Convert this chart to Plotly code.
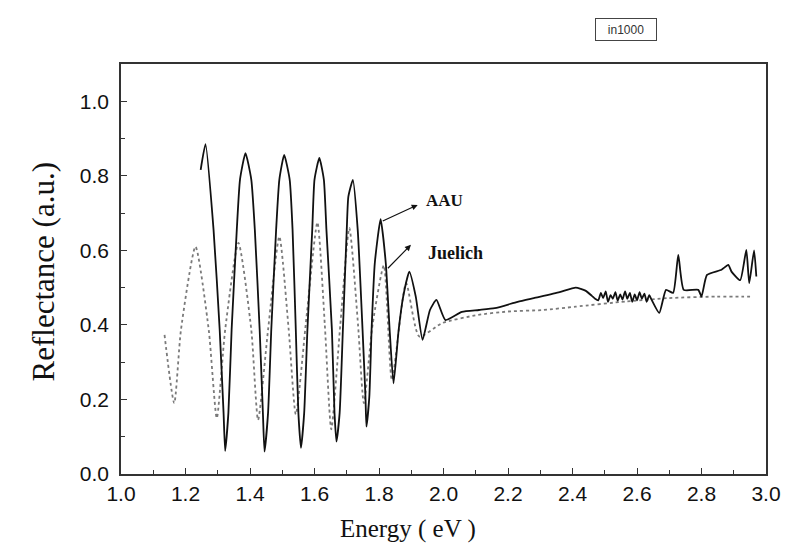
import plotly.graph_objects as go

# AAU measurement (solid)
aau_energy = [1.247, 1.262, 1.287, 1.306, 1.318, 1.323, 1.333, 1.343, 1.359, 1.369, 1.386,
              1.404, 1.415, 1.430, 1.440, 1.445, 1.456, 1.466, 1.481, 1.491, 1.506,
              1.523, 1.532, 1.542, 1.550, 1.558, 1.568, 1.578, 1.593, 1.600, 1.615,
              1.629, 1.637, 1.654, 1.662, 1.668, 1.678, 1.688, 1.700, 1.705, 1.719,
              1.734, 1.749, 1.758, 1.761, 1.770, 1.777, 1.787, 1.805,
              1.821, 1.833, 1.845, 1.861, 1.875, 1.894, 1.914, 1.935, 1.958, 1.978, 2.006,
              2.057, 2.110, 2.159, 2.230, 2.280, 2.360, 2.410, 2.440, 2.460, 2.470, 2.480,
              2.488, 2.495, 2.503, 2.510, 2.518, 2.525, 2.533, 2.540, 2.548, 2.555, 2.563,
              2.570, 2.578, 2.585, 2.593, 2.600, 2.608, 2.615, 2.623, 2.630, 2.638, 2.645,
              2.669, 2.690, 2.712, 2.728, 2.745, 2.790, 2.800, 2.817, 2.862, 2.883, 2.893,
              2.920, 2.939, 2.948, 2.963, 2.970]
aau_refl = [0.816, 0.885, 0.655, 0.387, 0.164, 0.062, 0.164, 0.387, 0.655, 0.790, 0.861,
            0.790, 0.655, 0.387, 0.164, 0.060, 0.164, 0.387, 0.655, 0.790, 0.856,
            0.790, 0.655, 0.387, 0.164, 0.070, 0.164, 0.387, 0.655, 0.790, 0.848,
            0.790, 0.655, 0.387, 0.164, 0.087, 0.164, 0.387, 0.655, 0.744, 0.789,
            0.655, 0.387, 0.208, 0.127, 0.208, 0.387, 0.566, 0.684,
            0.566, 0.387, 0.243, 0.387, 0.476, 0.543, 0.476, 0.360, 0.440, 0.467, 0.413,
            0.435, 0.440, 0.445, 0.462, 0.472, 0.488, 0.500, 0.492, 0.478, 0.470, 0.466,
            0.486, 0.472, 0.490, 0.462, 0.480, 0.470, 0.488, 0.465, 0.482, 0.468, 0.490,
            0.470, 0.486, 0.462, 0.482, 0.466, 0.488, 0.470, 0.484, 0.462, 0.480, 0.468,
            0.432, 0.494, 0.486, 0.588, 0.494, 0.494, 0.476, 0.534, 0.548, 0.561, 0.543,
            0.520, 0.601, 0.512, 0.600, 0.530]

# Juelich measurement (dotted)
jue_energy = [1.135, 1.165, 1.186, 1.231, 1.272, 1.297, 1.323, 1.364, 1.404, 1.425, 1.456,
              1.491, 1.520, 1.542, 1.575, 1.609, 1.632, 1.652, 1.680, 1.708, 1.735, 1.753,
              1.780, 1.815, 1.840, 1.884, 1.925, 1.996, 2.108, 2.200, 2.310, 2.410, 2.566,
              2.699, 2.847, 2.924, 2.960]
jue_refl = [0.373, 0.190, 0.387, 0.610, 0.387, 0.150, 0.387, 0.620, 0.387, 0.145, 0.387,
            0.637, 0.387, 0.160, 0.420, 0.675, 0.400, 0.120, 0.400, 0.660, 0.400, 0.190,
            0.400, 0.560, 0.252, 0.512, 0.369, 0.405, 0.427, 0.436, 0.440, 0.449, 0.463,
            0.472, 0.476, 0.476, 0.476]

x_ticks = [1.0, 1.2, 1.4, 1.6, 1.8, 2.0, 2.2, 2.4, 2.6, 2.8, 3.0]
y_ticks = [0.0, 0.2, 0.4, 0.6, 0.8, 1.0]

fig = go.Figure()
fig.add_trace(go.Scatter(x=jue_energy, y=jue_refl, mode="lines",
                         line=dict(color="#7a7a7a", width=1.8, dash="dot", shape="spline", smoothing=0.6),
                         showlegend=False))
fig.add_trace(go.Scatter(x=aau_energy, y=aau_refl, mode="lines",
                         line=dict(color="#111111", width=1.8, shape="spline", smoothing=0.5),
                         showlegend=False))

tick_font_y = dict(family="Liberation Sans, Arial", size=21, color="#111")
tick_font_x = dict(family="Liberation Sans Narrow, Liberation Sans, Arial", size=21, color="#111")

fig.update_xaxes(range=[1.0, 3.0], tickvals=x_ticks, ticktext=[f"{v:.1f}" for v in x_ticks],
                 ticks="inside", ticklen=6, tickcolor="#333", tickfont=tick_font_x,
                 minor=dict(ticks="inside", dtick=0.1, ticklen=4, tickcolor="#333"),
                 showline=True, linecolor="#333", linewidth=1.5, mirror=True,
                 showgrid=False, zeroline=False)
fig.update_yaxes(range=[0.0, 1.1], tickvals=y_ticks, ticktext=[f"{v:.1f}" for v in y_ticks],
                 ticks="inside", ticklen=6, tickcolor="#333", tickfont=tick_font_y,
                 minor=dict(ticks="inside", dtick=0.1, ticklen=4, tickcolor="#333"),
                 showline=True, linecolor="#333", linewidth=1.5, mirror=True,
                 showgrid=False, zeroline=False, ticklabelstandoff=6)

serif = "Liberation Serif, Times New Roman, serif"
annotations = [
    dict(text="Energy ( eV )", xref="paper", yref="paper", x=0.445, y=-0.095, xanchor="center",
         yanchor="top", showarrow=False, font=dict(family=serif, size=25, color="#111")),
    dict(text="Reflectance (a.u.)", xref="paper", yref="paper", x=-0.12, y=0.493, textangle=-90,
         xanchor="center", yanchor="middle", showarrow=False,
         font=dict(family=serif, size=31, color="#111")),
    dict(text="<b>AAU</b>", x=1.938, y=0.733, xanchor="left", yanchor="middle", showarrow=False,
         font=dict(family=serif, size=17, color="#111")),
    dict(text="<b>Juelich</b>", x=1.945, y=0.593, xanchor="left", yanchor="middle", showarrow=False,
         font=dict(family=serif, size=18, color="#111")),
    dict(text="", x=1.92, y=0.722, ax=1.807, ay=0.677, axref="x", ayref="y", showarrow=True,
         arrowhead=2, arrowsize=1, arrowwidth=1.2, arrowcolor="#111"),
    dict(text="", x=1.899, y=0.615, ax=1.823, ay=0.548, axref="x", ayref="y", showarrow=True,
         arrowhead=2, arrowsize=1, arrowwidth=1.2, arrowcolor="#111"),
    dict(text="in1000", xref="paper", yref="paper", x=0.783, y=1.083, xanchor="center",
         yanchor="middle", showarrow=False, bordercolor="#444", borderwidth=1, borderpad=1,
         width=58, height=19, font=dict(family="Liberation Sans, Arial", size=12, color="#333")),
]

fig.update_layout(width=793, height=545, margin=dict(l=121, r=18, t=64, b=71),
                  paper_bgcolor="white", plot_bgcolor="white", annotations=annotations)

fig.write_html("out.html")
